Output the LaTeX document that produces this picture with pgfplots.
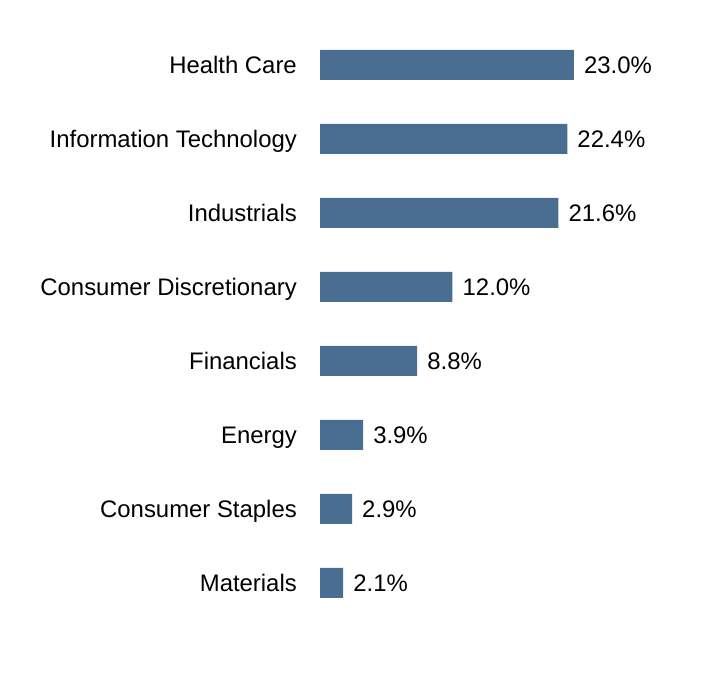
\documentclass[border=0pt]{standalone}
\usepackage{pgfplots}
\pgfplotsset{compat=1.18}
\usepackage{fontspec}
\setmainfont{Liberation Sans}
\definecolor{barblue}{HTML}{4A6D92}
\begin{document}
\begin{tikzpicture}
\useasboundingbox (0,0) rectangle (720pt,696pt);
\begin{axis}[
  at={(320pt,0pt)}, anchor=south west,
  scale only axis,
  width=400pt, height=696pt,
  xmin=0, xmax=36.232,
  ymin=-1.527, ymax=7.878,
  axis line style={draw=none},
  xtick=\empty,
  xbar, bar width=30pt,
  ytick={0,...,7},
  yticklabels={Materials,Consumer Staples,Energy,Financials,Consumer Discretionary,Industrials,Information Technology,Health Care},
  major tick length=0pt,
  ytick style={draw=none},
  yticklabel style={font=\fontsize{23.9}{28}\selectfont, inner sep=0pt, anchor=base east, xshift=-23pt, yshift=-8.8pt},
  /pgf/number format/assume math mode=true,
  nodes near coords={\pgfmathprintnumber[fixed,fixed zerofill,precision=1,assume math mode=true]{\pgfplotspointmeta}\%},
  nodes near coords style={font=\fontsize{23.9}{28}\selectfont, anchor=base west, inner sep=0pt, xshift=10pt, yshift=-8.8pt},
  point meta=x,
  clip=false,
]
\addplot[fill=barblue, draw=none] coordinates {
(2.1,0) (2.9,1) (3.9,2) (8.8,3) (12.0,4) (21.6,5) (22.4,6) (23.0,7)
};
\end{axis}
\end{tikzpicture}
\end{document}
